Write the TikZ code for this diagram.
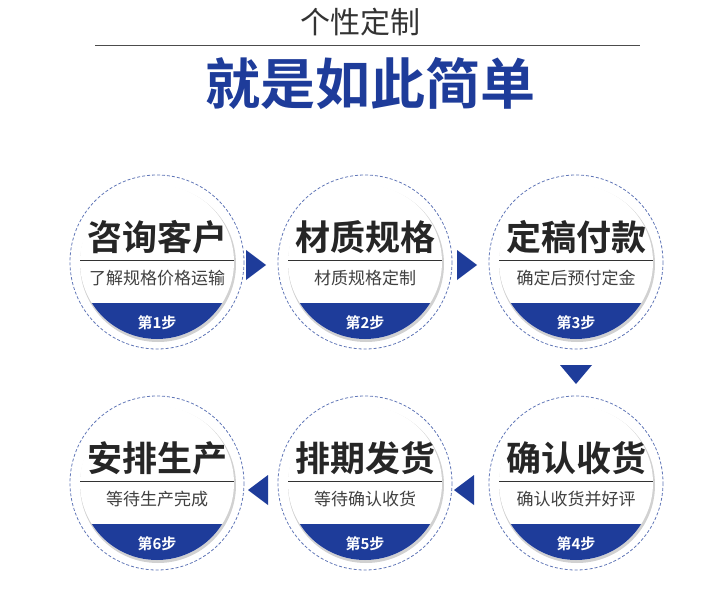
\documentclass[tikz,border=0pt]{standalone}
\usepackage{fontspec}
\newfontfamily\cjk{Noto Sans CJK SC}
\newfontfamily\cjkb{Noto Sans CJK SC Bold}
\definecolor{myblue}{HTML}{1E3C9A}
\begin{document}
\begin{tikzpicture}[x=1pt,y=-1pt,
  tri/.style={fill=myblue,draw=none}]
\useasboundingbox (0,0) rectangle (707,594);
\fill[white] (0,0) rectangle (707,594);
\node[font=\cjk\fontsize{30}{32}\selectfont,text=black!80] (t1) at (360,22) {个性定制};
\draw[black!70,line width=0.8pt] (95,45) -- (640,45);
\node[font=\cjkb\fontsize{55}{58}\selectfont,text=myblue] (t2) at (370,84) {就是如此简单};
\newcommand{\stepcircle}[6]{%
  \draw[myblue!70,dash pattern=on 3pt off 2pt,line width=0.8pt] (#1,#2) circle (87);
  \fill[black!18] (#1+1,#2+2) circle (78);
  \fill[white] (#1,#2) circle (77);
  \begin{scope}
    \clip (#1,#2) circle (77);
    \fill[myblue] (#1-80,#2+41) rectangle (#1+80,#2+80);
  \end{scope}
  \node[font=\cjkb\fontsize{35}{37}\selectfont,text=black!85] (#6h) at (#1,#2-25) {#3};
  \draw[black!80,line width=0.8pt] (#1-77,#2-2) -- (#1+77,#2-2);
  \node[font=\cjk\fontsize{17}{19}\selectfont,text=black!75] (#6s) at (#1,#2+16) {#4};
  \node[font=\cjkb\fontsize{15}{17}\selectfont,text=white] (#6l) at (#1,#2+61) {#5};
}
\stepcircle{157}{262}{咨询客户}{了解规格价格运输}{第1步}{a}
\stepcircle{365}{262}{材质规格}{材质规格定制}{第2步}{b}
\stepcircle{576}{262}{定稿付款}{确定后预付定金}{第3步}{c}
\stepcircle{576}{483}{确认收货}{确认收货并好评}{第4步}{d}
\stepcircle{365}{483}{排期发货}{等待确认收货}{第5步}{e}
\stepcircle{157}{483}{安排生产}{等待生产完成}{第6步}{f}
\fill[tri] (246,250) -- (266,265) -- (246,280) -- cycle;
\fill[tri] (457,250) -- (477,265) -- (457,280) -- cycle;
\fill[tri] (560,365) -- (592,365) -- (576,384) -- cycle;
\fill[tri] (474,475) -- (454,490) -- (474,505) -- cycle;
\fill[tri] (268,475) -- (248,490) -- (268,505) -- cycle;
\end{tikzpicture}
\end{document}
